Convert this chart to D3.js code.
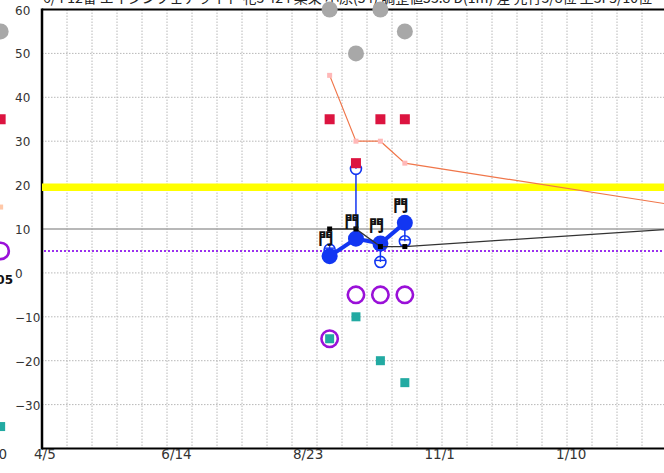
<!DOCTYPE html>
<html><head><meta charset="utf-8">
<script src="https://cdn.jsdelivr.net/npm/d3@7"></script>
<style>html,body{margin:0;padding:0;background:#fff;overflow:hidden}</style>
</head><body><svg id="c" width="664" height="473"></svg>
<script>
// ---- data ----
const titleText = "6/4 12番 エイシンフェアライト 牝3 424 栗東 小原(54) 調整値53.8 D(1m) 差 先行3/8位 上3F5/10位";
const xTickDates = ["2024-04-05", "2024-06-14", "2024-08-23", "2024-11-01", "2025-01-10"];
const xTickLabels = ["4/5", "6/14", "8/23", "11/1", "1/10"];
const yTicks = [60, 50, 40, 30, 20, 10, 0, -10, -20, -30];
const yTickLabels = ["60", "50", "40", "30", "20", "10", "0", "−10", "−20", "−30"];

const raceDates = ["2024-09-04", "2024-09-18", "2024-10-01", "2024-10-14"];
const grayVals = [60, 50, 60, 55];
const redVals = [35, 25, 35, 35];
const orangeVals = [45, 30, 30, 25];
const blackVals = [10, 10, 6, 6];
const blueVals = [3.8, 7.8, 6.7, 11.4];
const blueOpenVals = [5.3, 23.7, 2.5, 7.2];
const tealVals = [-15, -10, -20, -25];
const purpleVals = [-15, -5, -5, -5];
const raceLabels = ["門", "門", "門", "門"];

const projDate = "2025-03-31";
const orangeProjVal = 13.8;
const blackProjVal = 10.7;

const yellowLevel = 19.5;
const purpleLevel = 5;
const solidLevel = 10;

// fragment of neighbouring chart at the left edge
const prevDate = "2024-03-13";
const prevGray = 55, prevRed = 35, prevPink = 15, prevPurple = 5, prevTeal = -35;
const prevTexts = ["05", "0"];

// ---- drawing ----
(function () {
const svg = d3.select("#c");
const W = 664;
const parse = d3.utcParse("%Y-%m-%d");
const x = d3.scaleUtc().domain([parse("2024-04-04"), parse("2025-03-31")]).range([42, 42 + 361 * 1.88]);
const y = d3.scaleLinear().domain([-40, 60]).range([448.5, 9.5]);
const pLeft = 42, pTop = y(60), pBottom = y(-40);

// title (cut off at top, as in the source)
svg.append("text").attr("x", 43).attr("y", 2.5)
  .attr("textLength", 609).attr("lengthAdjust", "spacingAndGlyphs")
  .style("font-family", "'Noto Sans CJK JP', sans-serif").style("font-size", "14px").attr("fill", "#222")
  .text(titleText);

// grid
const g = svg.append("g");
d3.range(pLeft + 25, W + 1, 25).forEach(px => {
  g.append("line").attr("x1", px).attr("x2", px).attr("y1", pTop).attr("y2", pBottom)
    .attr("stroke", "#b8b8b8").attr("stroke-width", 1).attr("stroke-dasharray", "1.5,1.5");
});
yTicks.filter(v => v !== 60 && v !== solidLevel).forEach(v => {
  g.append("line").attr("x1", pLeft).attr("x2", W).attr("y1", y(v)).attr("y2", y(v))
    .attr("stroke", "#b8b8b8").attr("stroke-width", 1).attr("stroke-dasharray", "1.5,1.5");
});
g.append("line").attr("x1", pLeft).attr("x2", W).attr("y1", y(solidLevel)).attr("y2", y(solidLevel))
  .attr("stroke", "#a0a0a0").attr("stroke-width", 1.6);

// frame
svg.append("line").attr("x1", pLeft).attr("x2", W).attr("y1", pTop).attr("y2", pTop).attr("stroke", "#000").attr("stroke-width", 2);
svg.append("line").attr("x1", pLeft).attr("x2", W).attr("y1", pBottom).attr("y2", pBottom).attr("stroke", "#000").attr("stroke-width", 2);
svg.append("line").attr("x1", pLeft).attr("x2", pLeft).attr("y1", pTop - 1).attr("y2", pBottom + 1).attr("stroke", "#000").attr("stroke-width", 2.5);

// y labels
yTicks.forEach((v, i) => {
  svg.append("text").attr("x", 15).attr("y", y(v) + 5)
    .style("font-family", "'DejaVu Sans', sans-serif").style("font-size", "12px").attr("fill", "#333")
    .text(yTickLabels[i]);
});
// x labels
xTickDates.forEach((d, i) => {
  svg.append("text").attr("x", x(parse(d)) + 1).attr("y", 459).attr("text-anchor", "middle")
    .style("font-family", "'DejaVu Sans', sans-serif").style("font-size", "13.5px").attr("fill", "#333")
    .text(xTickLabels[i]);
});

// reference lines
svg.append("line").attr("x1", pLeft).attr("x2", W).attr("y1", y(yellowLevel)).attr("y2", y(yellowLevel))
  .attr("stroke", "#ffff00").attr("stroke-width", 7.5);
svg.append("line").attr("x1", pLeft + 2).attr("x2", W).attr("y1", y(purpleLevel)).attr("y2", y(purpleLevel))
  .attr("stroke", "#9a30ee").attr("stroke-width", 2).attr("stroke-dasharray", "2,2");

const dates = raceDates.map(parse);
const pDate = parse(projDate);

// gray circles
dates.forEach((d, i) => svg.append("circle").attr("cx", x(d)).attr("cy", y(grayVals[i])).attr("r", 8).attr("fill", "#a8a8a8"));

// orange line
const line = d3.line().x(p => x(p[0])).y(p => y(p[1]));
const orangePts = dates.map((d, i) => [d, orangeVals[i]]).concat([[pDate, orangeProjVal]]);
svg.append("path").attr("d", line(orangePts)).attr("fill", "none").attr("stroke", "#f0764a").attr("stroke-width", 1.2);
dates.forEach((d, i) => svg.append("rect").attr("x", x(d) - 2.5).attr("y", y(orangeVals[i]) - 2.5).attr("width", 5).attr("height", 5).attr("fill", "#ffb8b8"));

// teal squares & purple circles
dates.forEach((d, i) => svg.append("circle").attr("cx", x(d)).attr("cy", y(purpleVals[i])).attr("r", 8.2)
  .attr("fill", "none").attr("stroke", "#9a10d8").attr("stroke-width", 2.6));
dates.forEach((d, i) => svg.append("rect").attr("x", x(d) - 4.5).attr("y", y(tealVals[i]) - 4.5).attr("width", 9).attr("height", 9).attr("fill", "#22aaa2"));

// blue: connectors, open circles, line, big circles
const blue = "#1236f2";
dates.forEach((d, i) => svg.append("line").attr("x1", x(d)).attr("x2", x(d)).attr("y1", y(blueVals[i])).attr("y2", y(blueOpenVals[i]))
  .attr("stroke", blue).attr("stroke-width", 1.5));
dates.forEach((d, i) => {
  const cx = x(d), cy = y(blueOpenVals[i]);
  svg.append("circle").attr("cx", cx).attr("cy", cy).attr("r", 5.5).attr("fill", "#fff").attr("stroke", blue).attr("stroke-width", 1.6);
  svg.append("line").attr("x1", cx - 5).attr("x2", cx + 5).attr("y1", cy - 1.5).attr("y2", cy - 1.5).attr("stroke", blue).attr("stroke-width", 1.4);
  svg.append("line").attr("x1", cx).attr("x2", cx).attr("y1", cy - 5.5).attr("y2", cy).attr("stroke", blue).attr("stroke-width", 1.4);
});
// red squares (above open circles)
dates.forEach((d, i) => svg.append("rect").attr("x", x(d) - 5).attr("y", y(redVals[i]) - 5).attr("width", 10).attr("height", 10).attr("fill", "#dc1440"));

const bluePts = dates.map((d, i) => [d, blueVals[i]]);
svg.append("path").attr("d", line(bluePts)).attr("fill", "none").attr("stroke", blue).attr("stroke-width", 4);
dates.forEach((d, i) => svg.append("circle").attr("cx", x(d)).attr("cy", y(blueVals[i])).attr("r", 8).attr("fill", blue));

// black line
const blackPts = dates.map((d, i) => [d, blackVals[i]]).concat([[pDate, blackProjVal]]);
svg.append("path").attr("d", line(blackPts)).attr("fill", "none").attr("stroke", "#333").attr("stroke-width", 1.3);
dates.forEach((d, i) => svg.append("rect").attr("x", x(d) - 2.5).attr("y", y(blackVals[i]) - 2.5).attr("width", 5).attr("height", 5).attr("fill", "#000"));

// labels
dates.forEach((d, i) => svg.append("text").attr("x", x(d) - 4).attr("y", y(blueVals[i]) - 12).attr("text-anchor", "middle")
  .style("font-family", "'Noto Sans CJK JP', sans-serif").style("font-size", "15px").style("font-weight", "900").attr("fill", "#111")
  .text(raceLabels[i]));

// neighbouring chart fragment
const pd = parse(prevDate);
svg.append("circle").attr("cx", x(pd)).attr("cy", y(prevGray)).attr("r", 8).attr("fill", "#a8a8a8");
svg.append("rect").attr("x", x(pd) - 5).attr("y", y(prevRed) - 5).attr("width", 10).attr("height", 10).attr("fill", "#dc1440");
svg.append("rect").attr("x", x(pd) - 2.5).attr("y", y(prevPink) - 2.5).attr("width", 5).attr("height", 5).attr("fill", "#ffc8a8");
svg.append("circle").attr("cx", x(pd)).attr("cy", y(prevPurple)).attr("r", 8.2).attr("fill", "none").attr("stroke", "#9a10d8").attr("stroke-width", 2.6);
svg.append("rect").attr("x", x(pd) - 4.5).attr("y", y(prevTeal) - 4.5).attr("width", 9).attr("height", 9).attr("fill", "#22aaa2");
svg.append("text").attr("x", 13).attr("y", 284).attr("text-anchor", "end")
  .style("font-family", "'DejaVu Sans', sans-serif").style("font-size", "12px").style("font-weight", "bold").attr("fill", "#111").text(prevTexts[0]);
svg.append("text").attr("x", 7).attr("y", 459).attr("text-anchor", "end")
  .style("font-family", "'DejaVu Sans', sans-serif").style("font-size", "13.5px").attr("fill", "#333").text(prevTexts[1]);
})();
</script>
</body></html>
